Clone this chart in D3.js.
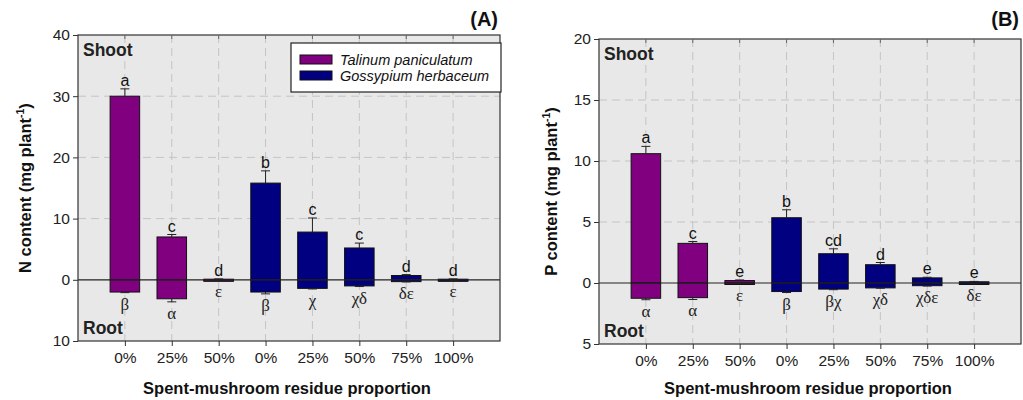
<!DOCTYPE html>
<html>
<head>
<meta charset="utf-8">
<script src="https://cdn.jsdelivr.net/npm/d3@7"></script>
<style>
  body { margin: 0; background: #fff; }
  svg { display: block; font-family: "Liberation Sans", Arial, sans-serif; }
</style>
</head>
<body>
<div id="chart"></div>
<script>
// categories
var doses = ["0%", "25%", "50%", "0%", "25%", "50%", "75%", "100%"];
var speciesOf = [0, 0, 0, 1, 1, 1, 1, 1];
var speciesNames = ["Talinum paniculatum", "Gossypium herbaceum"];
var speciesColors = ["#800080", "#000080"];

// panel A - nitrogen
var nShoot = [30.0, 7.0, 0.1, 15.8, 7.8, 5.2, 0.7, 0.1];
var nShootErr = [1.2, 0.4, 0.05, 2.0, 2.3, 0.8, 0.15, 0.05];
var nRoot = [2.0, 3.1, 0.05, 2.0, 1.4, 1.0, 0.3, 0.1];
var nRootErr = [0.1, 0.5, 0, 0.3, 0.1, 0.1, 0.05, 0];
var nShootLetters = ["a", "c", "d", "b", "c", "c", "d", "d"];
var nRootLetters = ["β", "α", "ε", "β", "χ", "χδ", "δε", "ε"];
var nTicks = [-10, 0, 10, 20, 30, 40];

// panel B - phosphorus
var pShoot = [10.6, 3.25, 0.2, 5.35, 2.4, 1.5, 0.42, 0.1];
var pShootErr = [0.6, 0.15, 0.05, 0.65, 0.4, 0.18, 0.05, 0.03];
var pRoot = [1.25, 1.2, 0.05, 0.7, 0.5, 0.4, 0.22, 0.05];
var pRootErr = [0.12, 0.15, 0, 0.08, 0.05, 0.03, 0.03, 0];
var pShootLetters = ["a", "c", "e", "b", "cd", "d", "e", "e"];
var pRootLetters = ["α", "α", "ε", "β", "βχ", "χδ", "χδε", "δε"];
var pTicks = [-5, 0, 5, 10, 15, 20];

var svg = d3.select("#chart").append("svg")
  .attr("width", 1023)
  .attr("height", 400);

function drawPanel(o) {
  var g = svg.append("g");
  var x = d3.scaleLinear().domain([0, doses.length + 1]).range([o.left, o.right]);
  var y = d3.scaleLinear().domain([o.ticks[0], o.ticks[o.ticks.length - 1]]).range([o.bottom, o.top]);
  var step = x(1) - x(0);
  var bw = step * 0.63;
  var idx = d3.range(doses.length);

  // plot background
  g.append("rect")
    .attr("x", o.left).attr("y", o.top)
    .attr("width", o.right - o.left).attr("height", o.bottom - o.top)
    .attr("fill", "#e8e8e8");

  // grid lines
  g.selectAll(".vg").data(idx).enter().append("line")
    .attr("x1", d => x(d + 1)).attr("x2", d => x(d + 1))
    .attr("y1", o.top).attr("y2", o.bottom)
    .attr("stroke", "#c4c4c4").attr("stroke-dasharray", "8,5");
  g.selectAll(".hg").data(o.ticks.filter(t => t > 0 && t < o.ticks[o.ticks.length - 1])).enter().append("line")
    .attr("x1", o.left).attr("x2", o.right)
    .attr("y1", d => y(d)).attr("y2", d => y(d))
    .attr("stroke", "#c4c4c4").attr("stroke-dasharray", "8,5");

  // shoot bars (up) and root bars (down)
  g.selectAll(".shoot").data(idx).enter().append("rect")
    .attr("x", d => x(d + 1) - bw / 2).attr("width", bw)
    .attr("y", d => y(o.shoot[d]))
    .attr("height", d => Math.max(y(0) - y(o.shoot[d]), 1.5))
    .attr("fill", d => speciesColors[speciesOf[d]])
    .attr("stroke", "#111").attr("stroke-width", 1);
  g.selectAll(".root").data(idx).enter().append("rect")
    .attr("x", d => x(d + 1) - bw / 2).attr("width", bw)
    .attr("y", y(0))
    .attr("height", d => Math.max(y(-o.root[d]) - y(0), 1.5))
    .attr("fill", d => speciesColors[speciesOf[d]])
    .attr("stroke", "#111").attr("stroke-width", 1);

  // error bars
  var eb = g.selectAll(".err").data(idx).enter().append("g");
  eb.append("line")
    .attr("x1", d => x(d + 1)).attr("x2", d => x(d + 1))
    .attr("y1", d => y(o.shoot[d])).attr("y2", d => y(o.shoot[d] + o.shootErr[d]))
    .attr("stroke", "#222");
  eb.append("line")
    .attr("x1", d => x(d + 1) - 4.5).attr("x2", d => x(d + 1) + 4.5)
    .attr("y1", d => y(o.shoot[d] + o.shootErr[d])).attr("y2", d => y(o.shoot[d] + o.shootErr[d]))
    .attr("stroke", "#222");
  eb.append("line")
    .attr("x1", d => x(d + 1)).attr("x2", d => x(d + 1))
    .attr("y1", d => y(-o.root[d])).attr("y2", d => y(-o.root[d] - o.rootErr[d]))
    .attr("stroke", "#222");
  eb.append("line")
    .attr("x1", d => x(d + 1) - 4.5).attr("x2", d => x(d + 1) + 4.5)
    .attr("y1", d => y(-o.root[d] - o.rootErr[d])).attr("y2", d => y(-o.root[d] - o.rootErr[d]))
    .attr("stroke", "#222");

  // zero line
  g.append("line")
    .attr("x1", o.left).attr("x2", o.right)
    .attr("y1", y(0)).attr("y2", y(0))
    .attr("stroke", "#222").attr("stroke-width", 1.2);

  // significance letters
  g.selectAll(".sl").data(idx).enter().append("text")
    .attr("x", d => x(d + 1))
    .attr("y", d => y(o.shoot[d] + o.shootErr[d]) - 3)
    .attr("text-anchor", "middle")
    .style("font-size", "16px").attr("fill", "#111")
    .text(d => o.shootLetters[d]);
  g.selectAll(".rl").data(idx).enter().append("text")
    .attr("x", d => x(d + 1))
    .attr("y", d => y(-o.root[d] - o.rootErr[d]) + 17)
    .attr("text-anchor", "middle")
    .style("font-family", "'Liberation Serif', 'Times New Roman', serif")
    .style("font-size", "17px").attr("fill", "#222")
    .text(d => o.rootLetters[d]);

  // frame
  g.append("rect")
    .attr("x", o.left).attr("y", o.top)
    .attr("width", o.right - o.left).attr("height", o.bottom - o.top)
    .attr("fill", "none").attr("stroke", "#333").attr("stroke-width", 1.2);

  // axes
  var yAxis = g.append("g")
    .attr("transform", `translate(${o.left},0)`)
    .call(d3.axisLeft(y).tickValues(o.ticks).tickSize(5).tickFormat(d => Math.abs(d)));
  yAxis.select(".domain").remove();
  yAxis.selectAll("text").style("font-size", "15.5px").attr("fill", "#222").attr("x", -8);
  yAxis.selectAll("line").attr("stroke", "#333");

  var xAxis = g.append("g")
    .attr("transform", `translate(0,${o.bottom})`)
    .call(d3.axisBottom(x).tickValues(idx.map(d => d + 1)).tickSize(5).tickFormat(d => doses[d - 1]));
  xAxis.select(".domain").remove();
  xAxis.selectAll("text").style("font-size", "15.5px").attr("fill", "#222").attr("y", 11);
  xAxis.selectAll("line").attr("stroke", "#333");

  // top ticks
  g.selectAll(".tt").data(idx).enter().append("line")
    .attr("x1", d => x(d + 1)).attr("x2", d => x(d + 1))
    .attr("y1", o.top).attr("y2", o.top + 4)
    .attr("stroke", "#666");

  // panel texts
  g.append("text").attr("x", o.left + 5).attr("y", o.top + 21)
    .style("font-size", "17.5px").style("font-weight", "bold").attr("fill", "#222").text("Shoot");
  g.append("text").attr("x", o.left + 5).attr("y", o.bottom - 7)
    .style("font-size", "17.5px").style("font-weight", "bold").attr("fill", "#222").text("Root");
  g.append("text").attr("x", o.right - 2).attr("y", 26).attr("text-anchor", "end")
    .style("font-size", "20px").style("font-weight", "bold").attr("fill", "#111").text(o.tag);

  var yt = g.append("text")
    .attr("transform", `translate(${o.titleX},${(o.top + o.bottom) / 2}) rotate(-90)`)
    .attr("text-anchor", "middle")
    .style("font-size", "16.5px").style("font-weight", "bold").attr("fill", "#111");
  yt.append("tspan").text(o.element + " content (mg plant");
  yt.append("tspan").attr("dy", -7).style("font-size", "10.5px").text("-1");
  yt.append("tspan").attr("dy", 7).text(")");

  g.append("text")
    .attr("x", (o.left + o.right) / 2 - 2).attr("y", 394)
    .attr("text-anchor", "middle")
    .style("font-size", "16.5px").style("font-weight", "bold").attr("fill", "#111")
    .text("Spent-mushroom residue proportion");

  return g;
}

var gA = drawPanel({
  left: 78, right: 500, top: 35, bottom: 341, ticks: nTicks, tag: "(A)", element: "N", titleX: 31,
  shoot: nShoot, shootErr: nShootErr, root: nRoot, rootErr: nRootErr,
  shootLetters: nShootLetters, rootLetters: nRootLetters
});

drawPanel({
  left: 599, right: 1021, top: 39, bottom: 344, ticks: pTicks, tag: "(B)", element: "P", titleX: 557,
  shoot: pShoot, shootErr: pShootErr, root: pRoot, rootErr: pRootErr,
  shootLetters: pShootLetters, rootLetters: pRootLetters
});

// legend (panel A)
var legend = gA.append("g").attr("transform", "translate(291,43)");
legend.append("rect").attr("width", 210).attr("height", 49)
  .attr("fill", "#fff").attr("stroke", "#222").attr("stroke-width", 1.2);
speciesNames.forEach(function(name, i) {
  legend.append("rect").attr("x", 9).attr("y", 12 + i * 16).attr("width", 32).attr("height", 9)
    .attr("fill", speciesColors[i]).attr("stroke", "#111");
  legend.append("text").attr("x", 49).attr("y", 21.5 + i * 16)
    .style("font-size", "14.5px").style("font-style", "italic").attr("fill", "#111")
    .text(name);
});
</script>
</body>
</html>
